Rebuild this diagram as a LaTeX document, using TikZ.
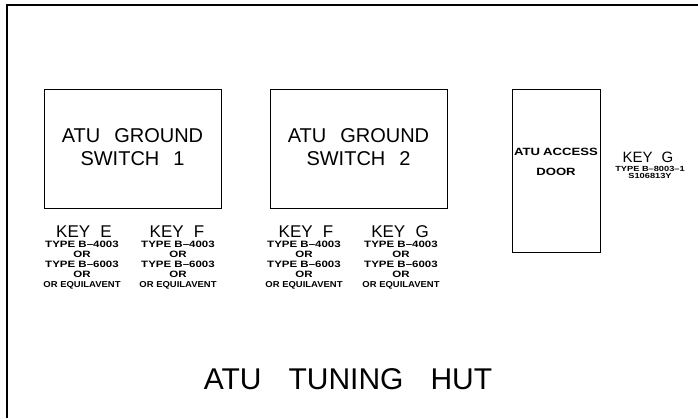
\documentclass[tikz,border=0pt]{standalone}
\usepackage{fontspec}
\setmainfont{Liberation Sans}
\newfontfamily\cadbold[FakeStretch=1.25]{Liberation Sans Bold}
\newfontfamily\cadnarrow[FakeStretch=1.1]{Liberation Sans Bold}
\newcommand{\eqline}{{\cadnarrow\fontsize{8.6}{10.2}\selectfont OR EQUILAVENT}}
\begin{document}
\begin{tikzpicture}[x=1pt,y=-1pt,
  box/.style={draw,line width=0.9pt},
  bigtxt/.style={font=\fontsize{20}{22.5}\selectfont,align=center,inner sep=0pt},
  keytxt/.style={font=\fontsize{17}{20}\selectfont,inner sep=0pt,anchor=base},
  smalltxt/.style={font=\cadbold\fontsize{9.2}{10.2}\selectfont,align=center,inner sep=0pt,anchor=north},
  tinytxt/.style={font=\cadbold\fontsize{7.4}{5.2}\selectfont,align=center,inner sep=0pt,anchor=north},
  doortxt/.style={font=\cadbold\fontsize{10.5}{20}\selectfont,align=center,inner sep=0pt}]
\useasboundingbox (0,0) rectangle (698,418);
\draw[line width=1.8pt] (7,418) -- (7,5) -- (698,5);
% boxes
\node[box,minimum width=177pt,minimum height=119pt,inner sep=0pt] (sw1) at (132.5,148.5) {};
\node[box,minimum width=177pt,minimum height=119pt,inner sep=0pt] (sw2) at (358.5,148.5) {};
\node[box,minimum width=88pt,minimum height=163pt,inner sep=0pt] (door) at (556,170.5) {};
\node[bigtxt] (sw1t) at (132.5,147) {ATU\hspace{0.7em}GROUND\\SWITCH\hspace{0.7em}1};
\node[bigtxt] (sw2t) at (358.5,147) {ATU\hspace{0.7em}GROUND\\SWITCH\hspace{0.7em}2};
\node[doortxt] (doort) at (556,162) {ATU\hspace{0.3em}ACCESS\\DOOR};
% key labels
\node[keytxt] (ke) at (84,237) {KEY\hspace{0.6em}E};
\node[keytxt] (kf1) at (177,237) {KEY\hspace{0.6em}F};
\node[keytxt] (kf2) at (306,237) {KEY\hspace{0.6em}F};
\node[keytxt] (kg1) at (400,237) {KEY\hspace{0.6em}G};
\node[smalltxt] (te) at (82,240.5) {TYPE B–4003\\OR\\TYPE B–6003\\OR\\\eqline};
\node[smalltxt] (tf1) at (178,240.5) {TYPE B–4003\\OR\\TYPE B–6003\\OR\\\eqline};
\node[smalltxt] (tf2) at (304,240.5) {TYPE B–4003\\OR\\TYPE B–6003\\OR\\\eqline};
\node[smalltxt] (tg1) at (401,240.5) {TYPE B–4003\\OR\\TYPE B–6003\\OR\\\eqline};
\node[keytxt,font=\fontsize{15}{18}\selectfont] (kg2) at (648,162.5) {KEY\hspace{0.6em}G};
\node[tinytxt] (tg2) at (650,166.5) {TYPE B–8003–1\\S106813Y};
% title
\node[font=\fontsize{30}{36}\selectfont,inner sep=0pt] (title) at (348,379) {ATU\hspace{0.9em}TUNING\hspace{0.9em}HUT};
\end{tikzpicture}
\end{document}
